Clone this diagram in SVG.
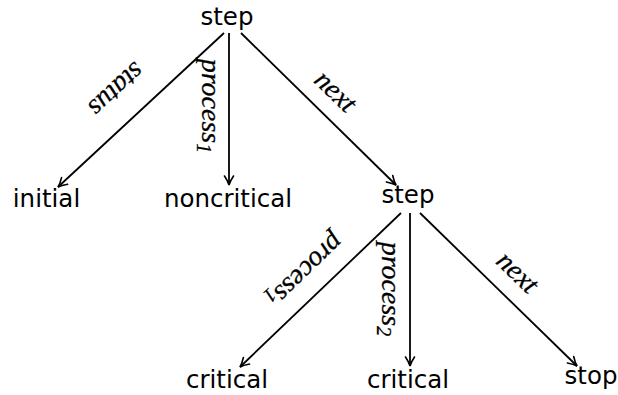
<svg xmlns="http://www.w3.org/2000/svg" width="618" height="395" viewBox="0 0 618 395">
  <style>
    .node { font-family: "DejaVu Sans", "Liberation Sans", sans-serif; font-size: 24.5px; fill: #000; text-anchor: middle; }
    .edge { fill: none; stroke: #000; stroke-width: 1.8; }
    .lbl { font-family: "Liberation Serif", "DejaVu Serif", serif; font-style: italic; font-size: 28px; fill: #000; stroke: #000; stroke-width: 0.3; text-anchor: middle; }
    .sub { font-size: 20px; }
  </style>
  <defs>
    <marker id="tip" viewBox="-10 -6 11 12" refX="0" refY="0" markerWidth="11" markerHeight="12" markerUnits="userSpaceOnUse" orient="auto">
      <path d="M-9,-4.5 Q-3.5,-0.9 0,0 Q-3.5,0.9 -9,4.5" fill="none" stroke="#000" stroke-width="1.6" stroke-linecap="round"/>
    </marker>
  </defs>

  <g id="connectors">
    <path class="edge" d="M224,33 L58,187" marker-end="url(#tip)"/>
    <path class="edge" d="M229,33 L229,185" marker-end="url(#tip)"/>
    <path class="edge" d="M241,33 L396,185" marker-end="url(#tip)"/>
    <path class="edge" d="M401,213 L240,367" marker-end="url(#tip)"/>
    <path class="edge" d="M410,213 L410,366" marker-end="url(#tip)"/>
    <path class="edge" d="M420,213 L577,366" marker-end="url(#tip)"/>
    <!-- edge labels, rotated along their edges -->
    <text class="lbl" transform="translate(116,89) rotate(137.1)" y="8">status</text>
    <text class="lbl" transform="translate(206,106) rotate(90)" y="4">process<tspan class="sub" dy="5">1</tspan></text>
    <text class="lbl" transform="translate(335,92) rotate(44.4)" y="8">next</text>
    <text class="lbl" transform="translate(302,268) rotate(136.1)" y="4">process<tspan class="sub" dy="5">1</tspan></text>
    <text class="lbl" transform="translate(386,289) rotate(90)" y="4">process<tspan class="sub" dy="5">2</tspan></text>
    <text class="lbl" transform="translate(517,273) rotate(44.4)" y="8">next</text>
  </g>

  <g id="step-root"><text class="node" x="227" y="25">step</text></g>
  <g id="initial"><text class="node" x="46.5" y="207">initial</text></g>
  <g id="noncritical"><text class="node" x="228" y="207">noncritical</text></g>
  <g id="step-next"><text class="node" x="408" y="203">step</text></g>
  <g id="critical-1"><text class="node" x="227" y="388">critical</text></g>
  <g id="critical-2"><text class="node" x="408" y="388">critical</text></g>
  <g id="stop"><text class="node" x="591" y="384">stop</text></g>
</svg>
